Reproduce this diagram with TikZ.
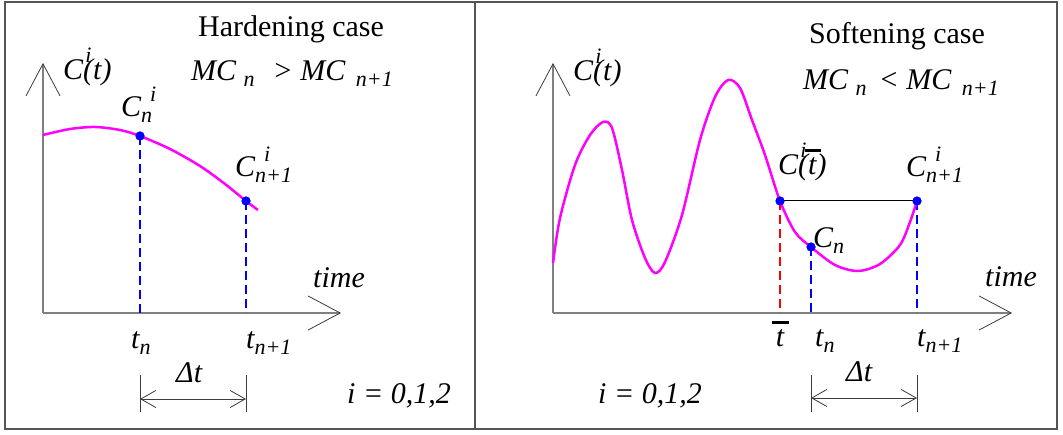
\documentclass[tikz,border=0pt]{standalone}
\usepackage{fontspec}
\setmainfont{Liberation Serif}
\usetikzlibrary{arrows.meta}

\definecolor{curvemag}{RGB}{255,0,255}
\definecolor{framegray}{RGB}{85,85,85}
\definecolor{axisgray}{RGB}{128,128,128}
\definecolor{barbgray}{RGB}{60,60,60}

\newcommand{\lsize}{\fontsize{22}{24}\selectfont}
\newcommand{\lo}[1]{\raisebox{-0.2em}{\lsize #1}}
\newcommand{\supsub}[2]{\rlap{\raisebox{0.5em}{\lsize\hspace{0.4em}#1}}\raisebox{-0.2em}{\lsize #2}}
\newcommand{\supi}{\rlap{\raisebox{0.58em}{\lsize\hspace{0.1em}i}}}
\newcommand{\tbar}{\rlap{\hspace{-0.12em}\raisebox{0.78em}{\rule{0.55em}{0.09em}}}t}

\tikzset{
  lbl/.style={font=\fontsize{30}{32}\selectfont\itshape, inner sep=0pt, anchor=base west},
  heading/.style={font=\fontsize{30}{32}\selectfont, inner sep=0pt, anchor=base},
  axisline/.style={draw=axisgray, line width=1.5pt,
    -{Straight Barb[length=32pt,width=34pt,line width=0.8pt,color=barbgray]}},
  dimline/.style={barbgray, line width=0.8pt,
    {Straight Barb[length=15pt,width=17pt]}-{Straight Barb[length=15pt,width=17pt]}},
  extline/.style={barbgray, line width=0.8pt},
  magcurve/.style={curvemag, line width=2.5pt},
  guide/.style={blue, line width=2pt, dash pattern=on 9pt off 5pt},
  redguide/.style={guide, red},
  ptdot/.style={circle, fill=blue, inner sep=0pt, minimum size=9pt},
}

\begin{document}
\begin{tikzpicture}[x=1pt,y=-1pt]
    \useasboundingbox (0,0) rectangle (1063,435);
    \draw[framegray, line width=1.5pt] (5,2) rectangle (1057,429);
    \draw[framegray, line width=1.5pt] (475,2) -- (475,429);

    % hardening
    \begin{scope}
        \coordinate (o1) at (43,313);
        \coordinate (ytip1) at (43,63);
        \coordinate (xtip1) at (341,313);
        \draw[axisline] (o1) -- (ytip1);
        \draw[axisline] (o1) -- (xtip1);

        \node[ptdot] (dot1) at (140,136) {};
        \node[ptdot] (dot2) at (246,201) {};
        \coordinate (foot1) at (140,313);
        \coordinate (foot2) at (246,313);
        \draw[guide] (dot1.center) -- (foot1);
        \draw[guide] (dot2.center) -- (foot2);

        \draw[magcurve] plot[smooth] coordinates {(43,135) (70,129) (95,127) (120,130) (140,136)
            (170,149) (200,166) (225,184) (246,201) (258,210)};
        \node[ptdot] at (dot1) {};
        \node[ptdot] at (dot2) {};

        \node[heading] (hcase) at (291,37) {Hardening case};
        \node[lbl] (hcond) at (191,81) {MC~\lo{n}\hspace{0.6em}> MC\hspace{0.35em}\lo{n+1}};
        \node[lbl] (hyaxis) at (63,80) {C\supi(t)};
        \node[lbl] (hcn) at (121,117) {C\supsub{i}{n}};
        \node[lbl] (hcn1) at (235,177) {C\supsub{i}{n+1}};
        \node[lbl] (htime) at (313,288) {time};
        \node[lbl] (htn) at (131,349) {t\lo{n}};
        \node[lbl] (htn1) at (246,349) {t\lo{n+1}};

        \coordinate (dl1) at (140,399);
        \coordinate (dl2) at (246,399);
        \draw[extline] (140,375) -- (140,412);
        \draw[extline] (246,375) -- (246,412);
        \draw[dimline] (dl1) -- (dl2);
        \node[lbl] (hdt) at (176,383) {Δt};
        \node[lbl] (hidx) at (347,403) {i = 0,1,2};
    \end{scope}

    % softening
    \begin{scope}[xshift=510pt]
        \coordinate (o2) at (43,313);
        \coordinate (ytip2) at (43,63);
        \coordinate (xtip2) at (502,313);
        \draw[axisline] (o2) -- (ytip2);
        \draw[axisline] (o2) -- (xtip2);

        \node[ptdot] (dot3) at (270,201) {};
        \node[ptdot] (dot4) at (301,247) {};
        \node[ptdot] (dot5) at (407,201) {};
        \coordinate (foot3) at (270,313);
        \coordinate (foot4) at (301,313);
        \coordinate (foot5) at (407,313);
        \draw[redguide] (dot3.center) -- (foot3);
        \draw[guide] (dot4.center) -- (foot4);
        \draw[guide] (dot5.center) -- (foot5);
        \draw[black, line width=1pt] (dot3.center) -- (dot5.center);

        \draw[magcurve] plot[smooth] coordinates {(43,263) (50,218) (65,165) (80,135) (93,122)
            (102,128) (112,170) (122,220) (135,258) (145,273) (155,262) (172,215) (190,140)
            (205,97) (218,80) (230,88) (242,120) (255,155) (270,201) (285,232) (301,247)
            (325,265) (348,271) (370,264) (390,245) (400,222) (407,201)};
        \node[ptdot] at (dot3) {};
        \node[ptdot] at (dot4) {};
        \node[ptdot] at (dot5) {};

        \node[heading] (scase) at (387,44) {Softening case};
        \node[lbl] (scond) at (293,90) {MC~\lo{n}\hspace{0.4em}< MC\hspace{0.35em}\lo{n+1}};
        \node[lbl] (syaxis) at (63,81) {C\supi(t)};
        \node[lbl] (sctbar) at (268,175) {C\supi(\tbar)};
        \node[lbl] (scn1) at (396,177) {C\supsub{i}{n+1}};
        \node[lbl] (scn) at (303,248) {C\lo{n}};
        \node[lbl] (stime) at (475,287) {time};
        \node[lbl, anchor=base] (stbar) at (270,347) {\tbar};
        \node[lbl] (stn) at (305,347) {t\lo{n}};
        \node[lbl] (stn1) at (407,347) {t\lo{n+1}};

        \coordinate (dl3) at (301,398);
        \coordinate (dl4) at (407,398);
        \draw[extline] (301,375) -- (301,412);
        \draw[extline] (407,375) -- (407,412);
        \draw[dimline] (dl3) -- (dl4);
        \node[lbl] (sdt) at (336,382) {Δt};
        \node[lbl] (sidx) at (88,403) {i = 0,1,2};
    \end{scope}
\end{tikzpicture}
\end{document}
